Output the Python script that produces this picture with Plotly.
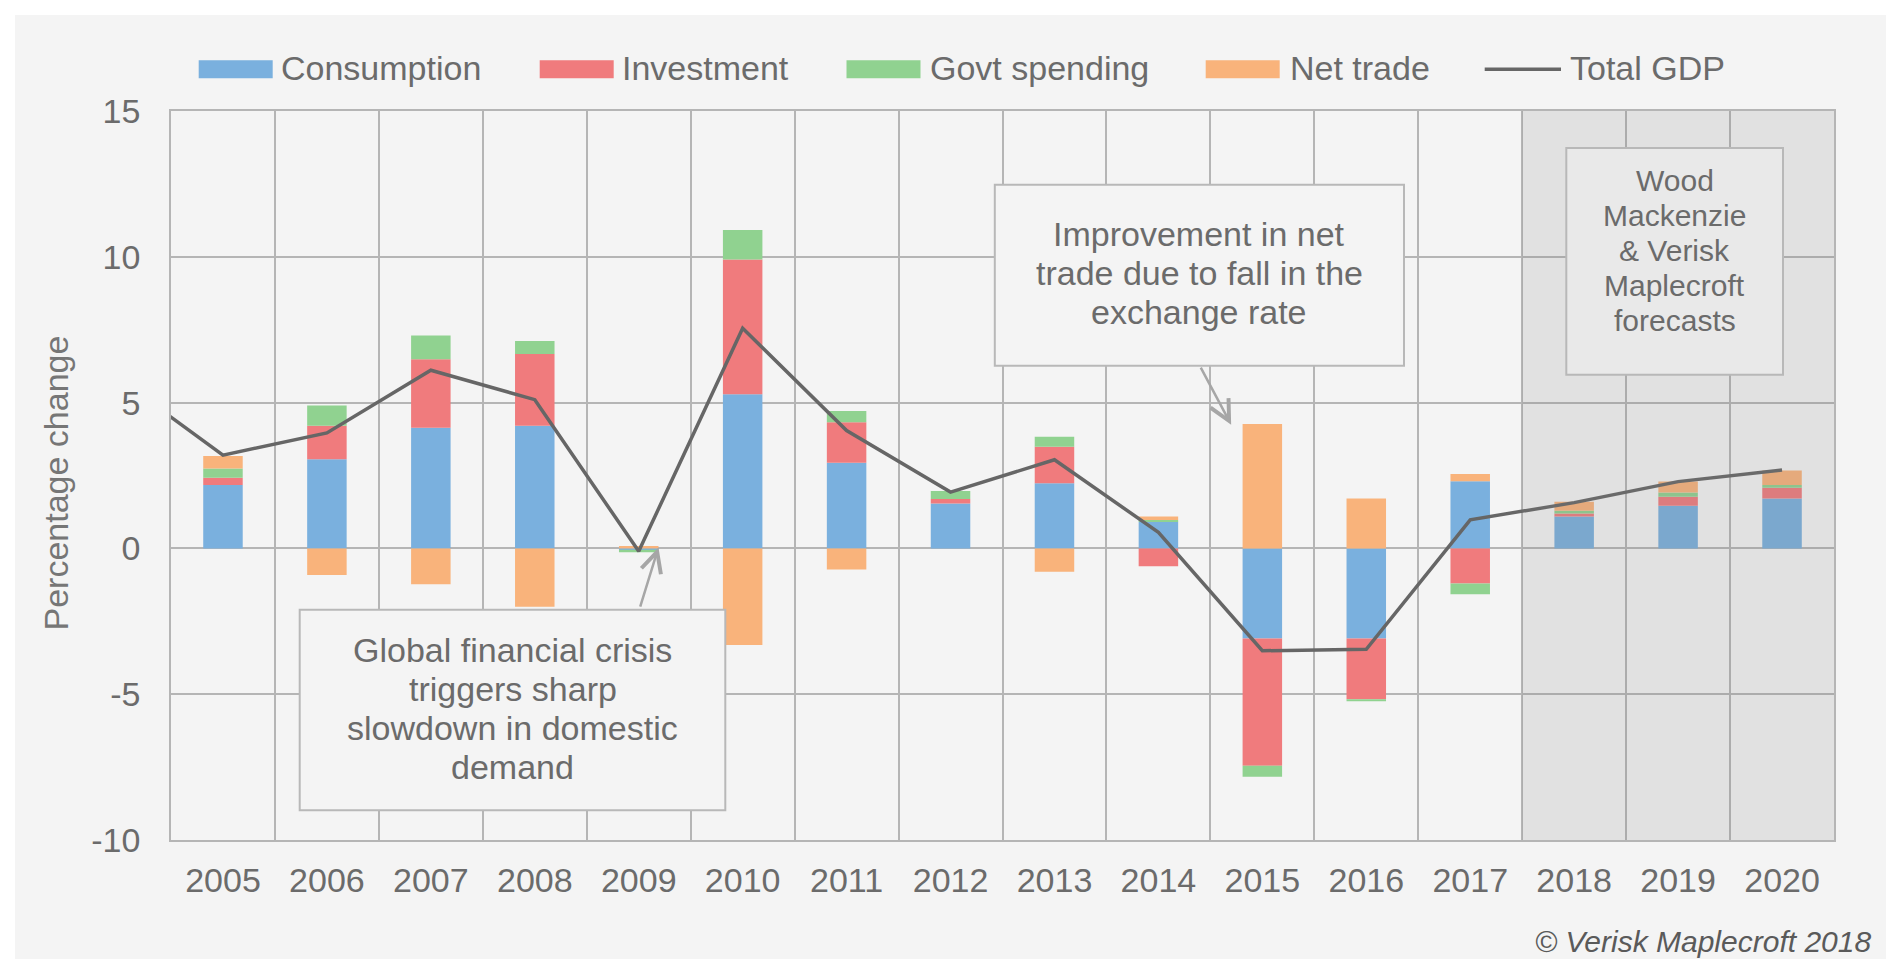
import plotly.graph_objects as go

# ---------------- data ----------------
years = [2005, 2006, 2007, 2008, 2009, 2010, 2011, 2012, 2013, 2014, 2015, 2016, 2017, 2018, 2019, 2020]
tick_labels = [str(y) for y in years]
consumption = [2.17, 3.06, 4.14, 4.21, -0.05, 5.29, 2.94, 1.54, 2.23, 0.91, -3.09, -3.09, 2.30, 1.09, 1.46, 1.71]
investment = [0.25, 1.15, 2.35, 2.46, 0.00, 4.62, 1.39, 0.15, 1.26, -0.61, -4.36, -2.08, -1.20, 0.11, 0.31, 0.37]
govt_spending = [0.32, 0.69, 0.81, 0.44, -0.08, 1.01, 0.38, 0.28, 0.34, 0.06, -0.38, -0.07, -0.37, 0.09, 0.15, 0.09]
net_trade = [0.43, -0.91, -1.23, -2.00, 0.08, -3.31, -0.72, 0.00, -0.80, 0.12, 4.27, 1.71, 0.25, 0.31, 0.37, 0.50]
gdp_years = [2004] + years
total_gdp = [5.80, 3.20, 3.96, 6.11, 5.10, -0.10, 7.55, 4.04, 1.93, 3.04, 0.55, -3.51, -3.46, 0.98, 1.57, 2.29, 2.69]

y_tick_values = [-10, -5, 0, 5, 10, 15]
y_tick_labels = ["-10", "-5", "0", "5", "10", "15"]

series_names = ["Consumption", "Investment", "Govt spending", "Net trade"]
series_values = [consumption, investment, govt_spending, net_trade]
series_colors = ["#7ab0de", "#f07b7d", "#90d290", "#f9b37b"]
line_name = "Total GDP"
line_color = "#666666"

forecast_start, forecast_end = 2017.5, 2020.5
note_crisis = ["Global financial crisis", "triggers sharp", "slowdown in domestic", "demand"]
note_trade = ["Improvement in net", "trade due to fall in the", "exchange rate"]
note_forecast = ["Wood", "Mackenzie", "& Verisk", "Maplecroft", "forecasts"]
copyright_text = "© Verisk Maplecroft 2018"
y_title = "Percentage change"

# ---------------- layout geometry (pixels) ----------------
W_PX, H_PX = 1894, 959
L, R, T, B = 163, 1826, 103, 832
PW, PH = R - L, B - T
FONT = "Liberation Sans, Arial, sans-serif"
TXT = "#6b6b6b"
GRID = "#b5b5b5"


def px(xp):
    return (xp - L) / PW


def py(yp):
    return (B - yp) / PH


fig = go.Figure()
for name, vals, col in zip(series_names, series_values, series_colors):
    fig.add_trace(go.Bar(x=years, y=vals, name=name, marker=dict(color=col, line=dict(width=0))))
fig.add_trace(go.Scatter(x=gdp_years, y=total_gdp, name=line_name, mode="lines",
                         line=dict(color=line_color, width=3.5)))

shapes = []
# outer grey card
shapes.append(dict(type="rect", xref="paper", yref="paper", x0=px(7), x1=px(1890), y0=py(959), y1=py(7),
                   fillcolor="#f4f4f4", line=dict(width=0), layer="below"))
# forecast shading
shapes.append(dict(type="rect", xref="x", yref="y", x0=forecast_start, x1=forecast_end, y0=-10, y1=15,
                   fillcolor="rgba(128,128,128,0.17)", line=dict(width=0), layer="above"))
# note boxes
boxes = [((291.7, 601.7, 717.3, 802.3), "#f4f4f4"),
         ((986.8, 176.7, 1396.0, 357.7), "#f4f4f4"),
         ((1558.3, 140.0, 1775.0, 366.7), "#e9e9e9")]
for (x0, y0, x1, y1), fc in boxes:
    shapes.append(dict(type="rect", xref="paper", yref="paper", x0=px(x0), x1=px(x1), y0=py(y1), y1=py(y0),
                       fillcolor=fc, line=dict(color="#b8b8b8", width=2), layer="above"))

annotations = []
# legend (manual, Excel style swatches)
swatch_left = [190.7, 531.7, 838.5, 1197.7]
text_left = [273, 614, 921.5, 1281.7]
for name, col, sl, tl in zip(series_names, series_colors, swatch_left, text_left):
    shapes.append(dict(type="rect", xref="paper", yref="paper", x0=px(sl), x1=px(sl + 74), y0=py(70.3), y1=py(52.3),
                       fillcolor=col, line=dict(width=0)))
    annotations.append(dict(xref="paper", yref="paper", x=px(tl - 2), y=py(59.8), text=name, showarrow=False,
                            xanchor="left", yanchor="middle", font=dict(size=34, color=TXT, family=FONT)))
shapes.append(dict(type="line", xref="paper", yref="paper", x0=px(1476.7), x1=px(1553), y0=py(61.3), y1=py(61.3),
                   line=dict(color=line_color, width=3.5)))
annotations.append(dict(xref="paper", yref="paper", x=px(1561.7 - 2), y=py(59.8), text=line_name, showarrow=False,
                        xanchor="left", yanchor="middle", font=dict(size=34, color=TXT, family=FONT)))


def add_lines(lines, cx, baselines, size):
    for txt, bl in zip(lines, baselines):
        annotations.append(dict(xref="paper", yref="paper", x=px(cx), y=py(bl - 0.3465 * size), text=txt,
                                showarrow=False, xanchor="center", yanchor="middle",
                                font=dict(size=size, color=TXT, family=FONT)))


add_lines(note_crisis, 504.5, [653.3, 692.3, 731.3, 770.3], 34)
add_lines(note_trade, 1191.4, [237.3, 276.5, 315.5], 34)
add_lines(note_forecast, 1666.7, [183.3, 218.3, 253.3, 288.3, 323.3], 30)

# arrows
annotations.append(dict(x=2009.19, y=0.03, ax=2009.01, ay=-2.05, xref="x", yref="y", axref="x", ayref="y",
                        text="", showarrow=True, arrowhead=5, arrowsize=1.6, arrowwidth=2.5, arrowcolor="#a6a6a6"))
annotations.append(dict(x=2014.70, y=4.24, ax=2014.40, ay=6.25, xref="x", yref="y", axref="x", ayref="y",
                        text="", showarrow=True, arrowhead=5, arrowsize=1.6, arrowwidth=2.5, arrowcolor="#a6a6a6"))

# y-axis title
annotations.append(dict(xref="paper", yref="paper", x=px(47), y=py(475.5), text=y_title, textangle=-90,
                        showarrow=False, xanchor="center", yanchor="middle",
                        font=dict(size=34, color="#767676", family=FONT)))
# copyright
annotations.append(dict(xref="paper", yref="paper", x=px(1865), y=py(933), text="<i>" + copyright_text + "</i>",
                        showarrow=False, xanchor="right", yanchor="middle",
                        font=dict(size=30, color="#5a5a5a", family=FONT)))

fig.update_layout(
    width=W_PX, height=H_PX,
    margin=dict(l=L, r=W_PX - R, t=T, b=H_PX - B, pad=0),
    paper_bgcolor="white", plot_bgcolor="#f4f4f4",
    barmode="relative", bargap=0.62,
    showlegend=False,
    font=dict(family=FONT, color=TXT, size=34),
    shapes=shapes, annotations=annotations,
)
fig.update_xaxes(
    range=[2004.5, 2020.5], tickmode="array", tickvals=years, ticktext=tick_labels,
    showgrid=False, zeroline=False, ticks="", ticklabelstandoff=9,
    tickfont=dict(size=34, color=TXT, family=FONT),
    showline=True, mirror=True, linecolor=GRID, linewidth=1.5,
    minor=dict(tickmode="array", tickvals=[2004.5 + i for i in range(17)], showgrid=True,
               gridcolor=GRID, gridwidth=1.5, ticks=""),
)
fig.update_yaxes(
    range=[-10, 15], tickmode="array", tickvals=y_tick_values, ticktext=y_tick_labels,
    showgrid=True, gridcolor=GRID, gridwidth=1.5, zeroline=False, ticks="", ticklabelstandoff=22,
    tickfont=dict(size=34, color=TXT, family=FONT),
    showline=True, mirror=True, linecolor=GRID, linewidth=1.5,
)

fig.write_html("out.html")
